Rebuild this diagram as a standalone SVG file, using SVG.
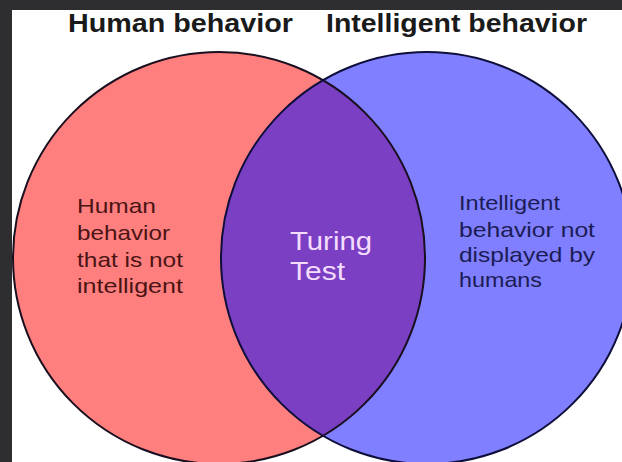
<svg xmlns="http://www.w3.org/2000/svg" width="622" height="462" viewBox="0 0 622 462">
  <style>
    .title { font-family: "Liberation Sans", Arial, sans-serif; font-weight: bold; font-size: 25px; fill: #1a1a1a; }
    .body { font-family: "Liberation Sans", Arial, sans-serif; font-size: 21px; }
    .left-txt { fill: #4a1414; }
    .right-txt { fill: #1c1c55; }
    .mid-txt { font-family: "Liberation Sans", Arial, sans-serif; font-size: 25px; fill: #f4dcff; }
  </style>
  <defs>
    <clipPath id="clipLeft">
      <circle cx="219" cy="258" r="206"/>
    </clipPath>
  </defs>
  <rect x="0" y="0" width="622" height="462" fill="#2e2e30"/>
  <rect x="12" y="10" width="610" height="452" fill="#ffffff"/>

  <g id="human-circle">
    <circle cx="219" cy="258" r="206" fill="#ff7f7f"/>
  </g>
  <g id="intelligent-circle">
    <circle cx="427" cy="258" r="206" fill="#7f7fff"/>
  </g>
  <g id="overlap">
    <circle cx="427" cy="258" r="206" fill="#7b3fc3" clip-path="url(#clipLeft)"/>
  </g>
  <g id="outlines" fill="none" stroke-width="2">
    <circle cx="219" cy="258" r="206" stroke="#1a0f1f"/>
    <circle cx="427" cy="258" r="206" stroke="#0e0e3a"/>
  </g>

  <g id="titles">
    <text class="title" x="68" y="32" textLength="225" lengthAdjust="spacingAndGlyphs">Human behavior</text>
    <text class="title" x="326" y="32" textLength="261" lengthAdjust="spacingAndGlyphs">Intelligent behavior</text>
  </g>

  <g id="human-label" class="body left-txt">
    <text x="77" y="213" textLength="79" lengthAdjust="spacingAndGlyphs">Human</text>
    <text x="77" y="240" textLength="93" lengthAdjust="spacingAndGlyphs">behavior</text>
    <text x="77" y="267" textLength="106" lengthAdjust="spacingAndGlyphs">that is not</text>
    <text x="77" y="293" textLength="106" lengthAdjust="spacingAndGlyphs">intelligent</text>
  </g>

  <g id="turing-label" class="mid-txt">
    <text x="290" y="250" textLength="82" lengthAdjust="spacingAndGlyphs">Turing</text>
    <text x="290" y="280" textLength="55" lengthAdjust="spacingAndGlyphs">Test</text>
  </g>

  <g id="intelligent-label" class="body right-txt">
    <text x="459" y="210" textLength="101" lengthAdjust="spacingAndGlyphs">Intelligent</text>
    <text x="459" y="237" textLength="136" lengthAdjust="spacingAndGlyphs">behavior not</text>
    <text x="459" y="262" textLength="136" lengthAdjust="spacingAndGlyphs">displayed by</text>
    <text x="459" y="287" textLength="83" lengthAdjust="spacingAndGlyphs">humans</text>
  </g>
</svg>
